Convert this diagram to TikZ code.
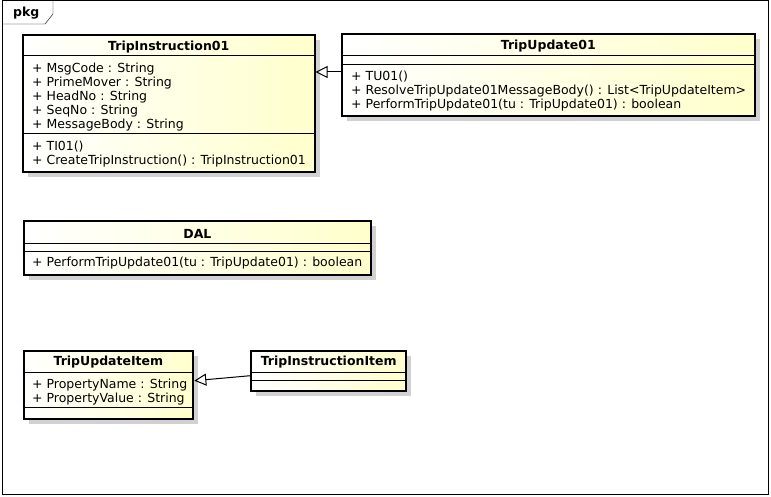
\documentclass[tikz,border=0pt]{standalone}
\usepackage{fontspec}
\setmainfont{DejaVu Sans}
\usepackage{tikz}
\usetikzlibrary{arrows.meta}
\usetikzlibrary{shadows}
\definecolor{clsyellow}{RGB}{255,255,204}

\begin{document}
\begin{tikzpicture}[x=1pt,y=-1pt,>/.tip={Triangle[open,length=12pt,width=12pt]},
	umlclass/.style={draw,line width=2pt,inner sep=0pt,left color=white,right color=clsyellow,general shadow={fill=black!18,shadow xshift=5pt,shadow yshift=-5pt}},
	clstitle/.style={anchor=base,inner sep=0pt,font=\fontsize{12.5}{14}\selectfont\bfseries},
	members/.style={anchor=north west,align=left,inner sep=0pt,font=\fontsize{12.5}{14}\selectfont},
	compline/.style={line width=1pt},
	generalize/.style={->,line width=1pt}]
	\useasboundingbox (0,0) rectangle (771,497);
	\draw (2.5,0.5) rectangle (768.5,494);
	\draw (2.5,24) -- (45,24) -- (53,14) -- (53,0.5);
	\draw (13,17) node (pkg) [anchor=base west,inner sep=0pt,font=\fontsize{12.5}{14}\selectfont\bfseries] {pkg};
	\draw (168.75,103.5) node (TI) [umlclass,minimum width=291.5,minimum height=137] {};
	\draw (548.3,75) node (TU) [umlclass,minimum width=412.7,minimum height=82.6] {};
	\draw (197.4,247.7) node (DAL) [umlclass,minimum width=347.8,minimum height=54] {};
	\draw (108.4,384.7) node (TUI) [umlclass,minimum width=169.8,minimum height=68] {};
	\draw (328.7,370.7) node (TII) [umlclass,minimum width=154.7,minimum height=40] {};
	\draw[compline] (TI.west |- 0,56) -- (TI.east |- 0,56);
	\draw[compline] (TI.west |- 0,133.3) -- (TI.east |- 0,133.3);
	\draw[compline] (TU.west |- 0,55.8) -- (TU.east |- 0,55.8);
	\draw[compline] (TU.west |- 0,64.2) -- (TU.east |- 0,64.2);
	\draw[compline] (DAL.west |- 0,243.3) -- (DAL.east |- 0,243.3);
	\draw[compline] (DAL.west |- 0,251.3) -- (DAL.east |- 0,251.3);
	\draw[compline] (TUI.west |- 0,372.3) -- (TUI.east |- 0,372.3);
	\draw[compline] (TUI.west |- 0,407.3) -- (TUI.east |- 0,407.3);
	\draw[compline] (TII.west |- 0,372.2) -- (TII.east |- 0,372.2);
	\draw[compline] (TII.west |- 0,380.7) -- (TII.east |- 0,380.7);
	\node [clstitle] at (TI.north |- 0,50.5) {TripInstruction01};
	\node [members] at (32,62.8) {+ MsgCode : String\\+ PrimeMover : String\\+ HeadNo : String\\+ SeqNo : String\\+ MessageBody : String};
	\node [members] at (32,140.8) {+ TI01()\\+ CreateTripInstruction() : TripInstruction01};
	\node [clstitle] at (TU.north |- 0,50) {TripUpdate01};
	\node [members] at (351,71.3) {+ TU01()\\+ ResolveTripUpdate01MessageBody() : List<TripUpdateItem>\\+ PerformTripUpdate01(tu : TripUpdate01) : boolean};
	\node [clstitle] at (DAL.north |- 0,238) {DAL};
	\node [members] at (32,256.5) {+ PerformTripUpdate01(tu : TripUpdate01) : boolean};
	\node [clstitle] at (TUI.north |- 0,365.5) {TripUpdateItem};
	\node [members] at (32,379.3) {+ PropertyName : String\\+ PropertyValue : String};
	\node [clstitle] at (TII.north |- 0,365.5) {TripInstructionItem};
	\draw[generalize] ([yshift=3pt]TU.west) -- ([yshift=3pt]TI.east |- TU.west);
	\draw[generalize] ([yshift=-5pt]TII.west) -- ([yshift=4pt]TUI.east);
\end{tikzpicture}
\end{document}
